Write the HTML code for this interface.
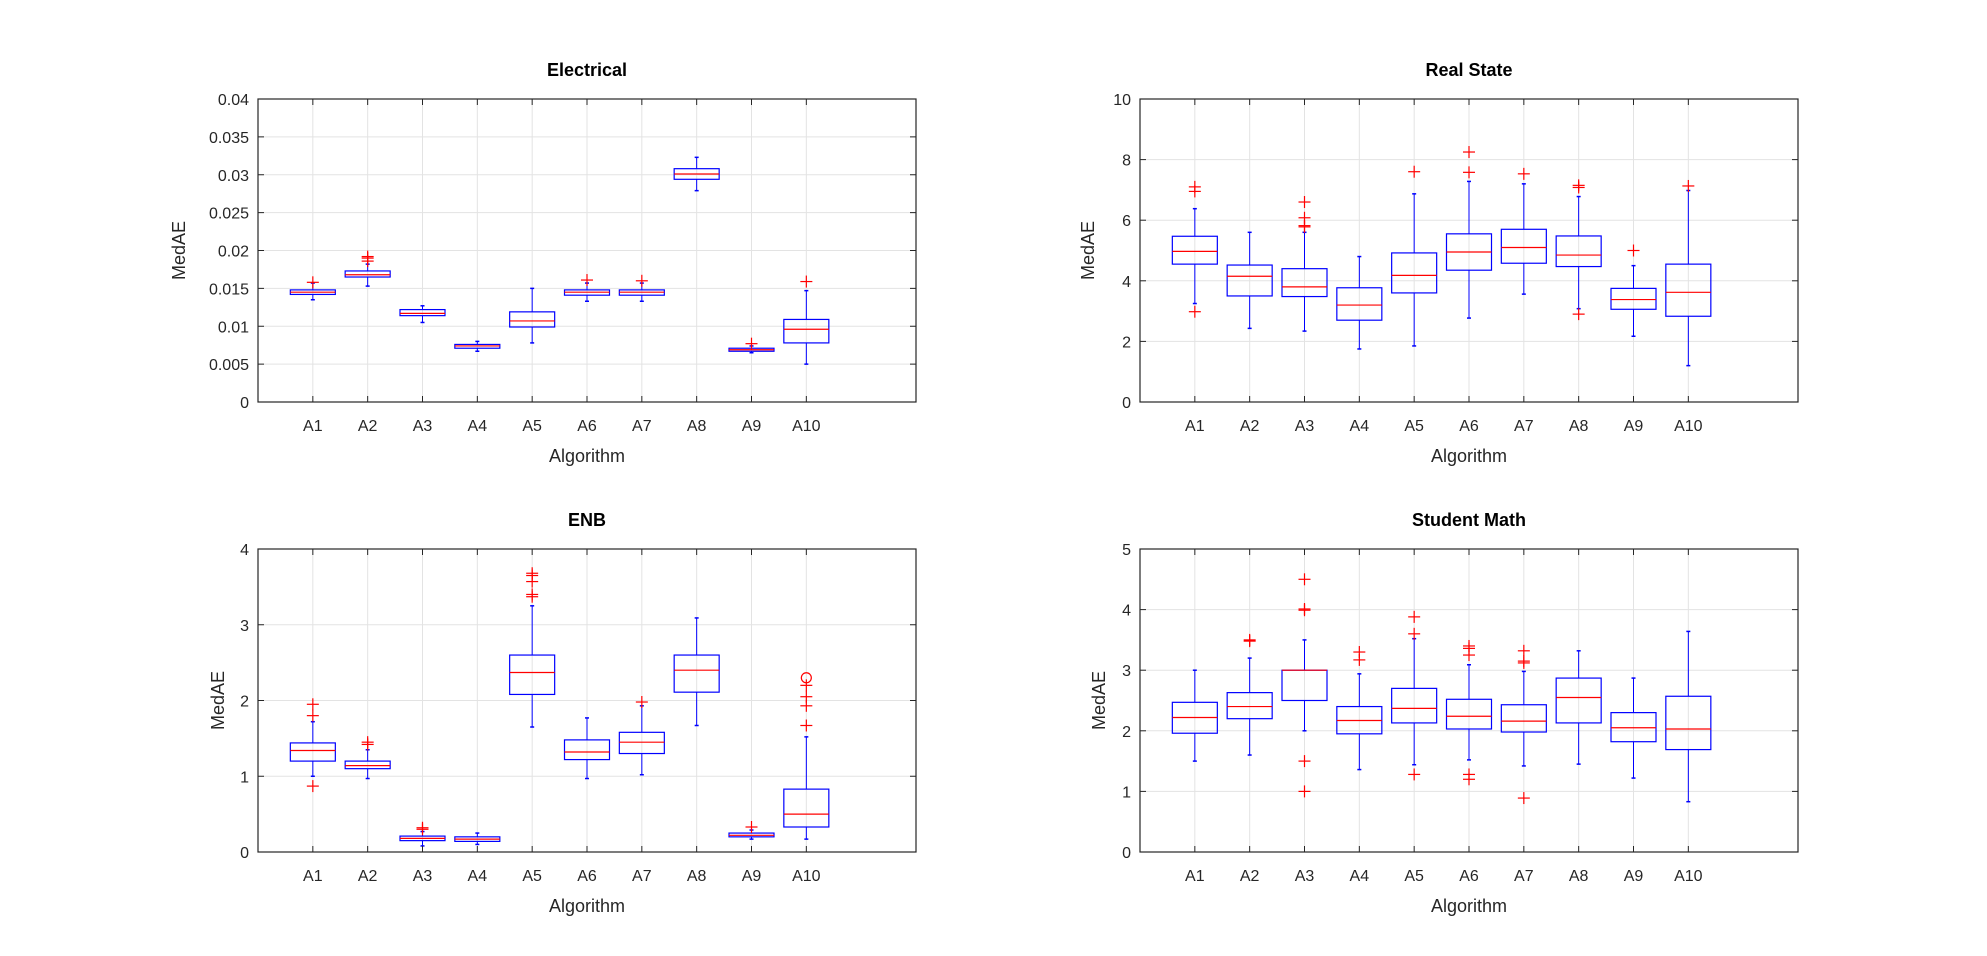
<!DOCTYPE html>
<html><head><meta charset="utf-8"><style>
html,body{margin:0;padding:0;background:#fff;}
svg{display:block;font-family:"Liberation Sans",Arial,sans-serif;}
</style></head><body>
<svg id="s" width="1987" height="956" viewBox="0 0 1987 956" xmlns="http://www.w3.org/2000/svg"></svg>
<script>
const S=document.getElementById('s');let h='';
function plot(L,R,T,B,ymax,yticks,title,data,lblx){
  const W=R-L,H=B-T;const X=i=>L+i*W/12;const Y=v=>B-v/ymax*H;
  for(let i=1;i<=10;i++){ h+=`<line x1="${X(i)}" y1="${T}" x2="${X(i)}" y2="${B}" stroke="#e3e3e3" stroke-width="1"/>`;}
  yticks.forEach(t=>{h+=`<line x1="${L}" y1="${Y(t.v)}" x2="${R}" y2="${Y(t.v)}" stroke="#e3e3e3" stroke-width="1"/>`;});
  data.forEach((d,k)=>{const x=X(k+1);const [w1,q1,m,q3,w2,outs]=d;const hw=22.5;
    h+=`<line x1="${x}" y1="${Y(w1)}" x2="${x}" y2="${Y(q1)}" stroke="#0000ff" stroke-width="1"/>`;
    h+=`<line x1="${x}" y1="${Y(q3)}" x2="${x}" y2="${Y(w2)}" stroke="#0000ff" stroke-width="1"/>`;
    h+=`<line x1="${x-2}" y1="${Y(w1)}" x2="${x+2}" y2="${Y(w1)}" stroke="#0000ff" stroke-width="1.5"/>`;
    h+=`<line x1="${x-2}" y1="${Y(w2)}" x2="${x+2}" y2="${Y(w2)}" stroke="#0000ff" stroke-width="1.5"/>`;
    h+=`<rect x="${x-hw}" y="${Y(q3)}" width="${2*hw}" height="${Math.max(1,Y(q1)-Y(q3))}" fill="none" stroke="#0000ff" stroke-width="1.2"/>`;
    h+=`<line x1="${x-hw}" y1="${Y(m)}" x2="${x+hw}" y2="${Y(m)}" stroke="#ff0000" stroke-width="1.2"/>`;
    (outs||[]).forEach(o=>{ if(typeof o==='object'){h+=`<circle cx="${x}" cy="${Y(o.c)}" r="5" fill="none" stroke="#ff0000" stroke-width="1.2"/>`;return;}
      const y=Y(o);h+=`<line x1="${x-6}" y1="${y}" x2="${x+6}" y2="${y}" stroke="#ff0000" stroke-width="1.2"/><line x1="${x}" y1="${y-6}" x2="${x}" y2="${y+6}" stroke="#ff0000" stroke-width="1.2"/>`;});
  });
  h+=`<rect x="${L}" y="${T}" width="${W}" height="${H}" fill="none" stroke="#262626" stroke-width="1.2"/>`;
  for(let i=1;i<=10;i++){h+=`<line x1="${X(i)}" y1="${B}" x2="${X(i)}" y2="${B-6}" stroke="#262626"/><line x1="${X(i)}" y1="${T}" x2="${X(i)}" y2="${T+6}" stroke="#262626"/>`;
    h+=`<text x="${X(i)}" y="${B+29}" font-size="16" fill="#262626" text-anchor="middle">A${i}</text>`;}
  yticks.forEach(t=>{const y=Y(t.v);h+=`<line x1="${L}" y1="${y}" x2="${L+6}" y2="${y}" stroke="#262626"/><line x1="${R}" y1="${y}" x2="${R-6}" y2="${y}" stroke="#262626"/>`;
    h+=`<text x="${L-9}" y="${y+6}" font-size="16" fill="#262626" text-anchor="end">${t.s}</text>`;});
  h+=`<text x="${(L+R)/2}" y="${T-23}" font-size="18" font-weight="bold" fill="#000" text-anchor="middle">${title}</text>`;
  h+=`<text x="${(L+R)/2}" y="${B+60}" font-size="18" fill="#262626" text-anchor="middle">Algorithm</text>`;
  h+=`<text transform="translate(${lblx},${(T+B)/2}) rotate(-90)" font-size="18" fill="#262626" text-anchor="middle">MedAE</text>`;
}
const e=[];for(let i=0;i<=8;i++){const v=i*0.005;e.push({v,s:i==0?'0':String(+v.toFixed(3))});}
plot(258,916,99,402,0.04,e,'Electrical',[
[0.0135,0.0142,0.0145,0.0148,0.0157,[0.0158]],
[0.0153,0.0165,0.0168,0.0173,0.0182,[0.0186,0.019,0.0192]],
[0.0105,0.0114,0.0117,0.0122,0.0127,[]],
[0.0067,0.0071,0.0074,0.0076,0.008,[]],
[0.0078,0.0099,0.0107,0.0119,0.015,[]],
[0.0133,0.0141,0.0145,0.0148,0.0157,[0.0161]],
[0.0133,0.0141,0.0145,0.0148,0.0157,[0.016]],
[0.0279,0.0294,0.0301,0.0308,0.0323,[]],
[0.0065,0.0067,0.0069,0.0071,0.0074,[0.0077]],
[0.005,0.0078,0.0096,0.0109,0.0147,[0.0159]]],185);
plot(1140,1798,99,402,10,[0,2,4,6,8,10].map(v=>({v,s:v})),'Real State',[
[3.25,4.55,4.97,5.47,6.38,[2.98,6.95,7.1]],
[2.43,3.5,4.15,4.52,5.6,[]],
[2.34,3.48,3.8,4.4,5.6,[5.78,5.82,6.08,6.6]],
[1.75,2.7,3.2,3.77,4.8,[]],
[1.85,3.6,4.18,4.92,6.87,[7.6]],
[2.77,4.35,4.95,5.55,7.28,[7.58,8.25]],
[3.56,4.58,5.1,5.7,7.2,[7.53]],
[3.08,4.47,4.85,5.48,6.78,[2.9,7.08,7.15]],
[2.17,3.06,3.38,3.75,4.5,[5.0]],
[1.2,2.83,3.62,4.55,6.98,[7.13]]],1094);
plot(258,916,549,852,4,[0,1,2,3,4].map(v=>({v,s:v})),'ENB',[
[1.0,1.2,1.34,1.44,1.72,[0.87,1.8,1.95]],
[0.97,1.1,1.14,1.2,1.35,[1.42,1.45]],
[0.08,0.15,0.18,0.21,0.27,[0.3,0.32]],
[0.1,0.14,0.17,0.2,0.25,[]],
[1.65,2.08,2.37,2.6,3.25,[3.37,3.4,3.57,3.65,3.68]],
[0.97,1.22,1.32,1.48,1.77,[]],
[1.02,1.3,1.45,1.58,1.93,[1.98]],
[1.67,2.11,2.4,2.6,3.09,[]],
[0.17,0.2,0.22,0.25,0.29,[0.33]],
[0.17,0.33,0.5,0.83,1.52,[1.67,1.93,2.05,2.2,{c:2.3}]]],224);
plot(1140,1798,549,852,5,[0,1,2,3,4,5].map(v=>({v,s:v})),'Student Math',[
[1.5,1.96,2.22,2.47,3.0,[]],
[1.6,2.2,2.4,2.63,3.2,[3.48,3.5]],
[2.0,2.5,3.0,3.0,3.5,[1.0,1.5,3.99,4.01,4.5]],
[1.36,1.95,2.17,2.4,2.94,[3.17,3.3]],
[1.44,2.13,2.37,2.7,3.52,[1.28,3.6,3.88]],
[1.52,2.03,2.24,2.52,3.09,[1.2,1.28,3.25,3.36,3.4]],
[1.42,1.98,2.16,2.43,2.98,[0.89,3.12,3.15,3.32]],
[1.45,2.13,2.55,2.87,3.32,[]],
[1.22,1.82,2.05,2.3,2.87,[]],
[0.83,1.69,2.03,2.57,3.64,[]]],1105);
S.innerHTML=h;
</script>
</body></html>
